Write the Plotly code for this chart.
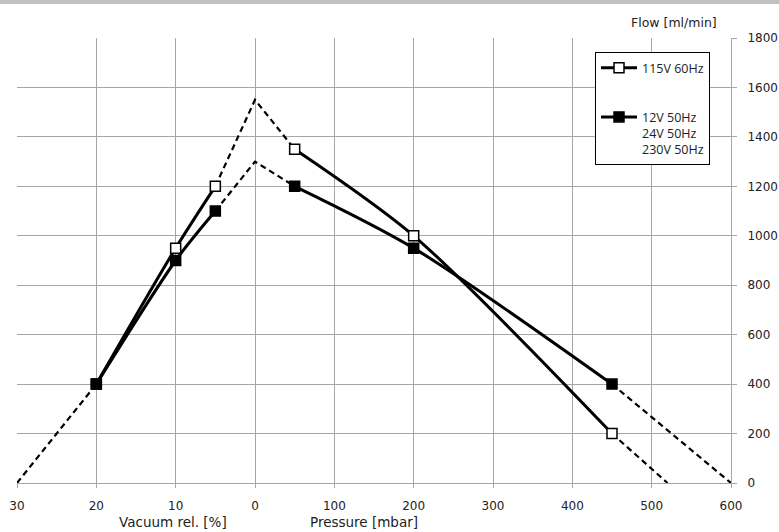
import plotly.graph_objects as go

# ---- data ----
# x positions: vacuum side in % (left of 0), pressure side in mbar (right of 0)
tick_labels = ["30", "20", "10", "0", "100", "200", "300", "400", "500", "600"]
tick_pos = [-3, -2, -1, 0, 1, 2, 3, 4, 5, 6]

# 115V 60Hz (open squares)
a_vac_pct = [20, 10, 5]
a_vac_flow = [400, 950, 1200]
a_prs_mbar = [50, 200, 450]
a_prs_flow = [1350, 1000, 200]
a_ext_left_x = [5, 0]          # vacuum % -> dashed to peak
a_ext_left_y = [1200, 1550]
a_ext_mid_mbar = [0, 50]
a_ext_mid_y = [1550, 1350]
a_ext_right_mbar = [450, 520]
a_ext_right_y = [200, 0]

# 12V/24V/230V 50Hz (filled squares)
b_vac_pct = [20, 10, 5]
b_vac_flow = [400, 900, 1100]
b_prs_mbar = [50, 200, 450]
b_prs_flow = [1200, 950, 400]
b_ext_left_x = [5, 0]
b_ext_left_y = [1100, 1300]
b_ext_mid_mbar = [0, 50]
b_ext_mid_y = [1300, 1200]
b_ext_right_mbar = [450, 600]
b_ext_right_y = [400, 0]

# common dashed start
c_vac_pct = [30, 20]
c_flow = [0, 400]


def vx(v):
    return [-p / 10.0 for p in v]


def px(p):
    return [m / 100.0 for m in p]


DASH = "6px,4px"
fig = go.Figure()

# dashed extensions
def dashed(x, y):
    fig.add_trace(go.Scatter(x=x, y=y, mode="lines", showlegend=False,
                             hoverinfo="skip",
                             line=dict(color="black", width=2.2, dash=DASH)))

dashed(vx(c_vac_pct), c_flow)
dashed(vx(a_ext_left_x) + px(a_ext_mid_mbar)[1:], a_ext_left_y + a_ext_mid_y[1:])
dashed(px(a_ext_right_mbar), a_ext_right_y)
dashed(vx(b_ext_left_x) + px(b_ext_mid_mbar)[1:], b_ext_left_y + b_ext_mid_y[1:])
dashed(px(b_ext_right_mbar), b_ext_right_y)

# solid series (vacuum part + gap + pressure part)
fig.add_trace(go.Scatter(
    x=vx(a_vac_pct) + [None] + px(a_prs_mbar),
    y=a_vac_flow + [None] + a_prs_flow,
    mode="lines+markers", connectgaps=False,
    name="115V 60Hz", legendgroup="a",
    line=dict(color="black", width=3, shape="spline", smoothing=0.8),
    marker=dict(symbol="square", size=10, color="white",
                line=dict(color="black", width=1.5)),
))
fig.add_trace(go.Scatter(
    x=vx(b_vac_pct) + [None] + px(b_prs_mbar),
    y=b_vac_flow + [None] + b_prs_flow,
    mode="lines+markers", connectgaps=False,
    name="12V 50Hz<br>24V 50Hz<br>230V 50Hz", legendgroup="b",
    line=dict(color="black", width=3, shape="spline", smoothing=0.8),
    marker=dict(symbol="square", size=10, color="black",
                line=dict(color="black", width=1.5)),
))

FONT = "DejaVu Sans"
TXT = "#222222"
L, R, T, B = 17, 48, 38, 49
W, H = 779, 532
pw = W - L - R
ph = H - T - B

fig.update_layout(
    width=W, height=H,
    margin=dict(l=L, r=R, t=T, b=B, autoexpand=False),
    paper_bgcolor="white", plot_bgcolor="white",
    font=dict(family=FONT, size=12, color=TXT),
    xaxis=dict(range=[-3, 6], tickmode="array", tickvals=tick_pos,
               ticktext=tick_labels, showgrid=True, gridcolor="#a6a6a6",
               gridwidth=1, zeroline=False, showline=True, linecolor="#a6a6a6",
               ticks="outside", ticklen=4, tickcolor="#a6a6a6",
               ticklabelstandoff=8, tickfont=dict(size=12), automargin=False),
    yaxis=dict(range=[0, 1800], dtick=200, side="right", showgrid=True,
               gridcolor="#a6a6a6", gridwidth=1, zeroline=False,
               showline=True, linecolor="#a6a6a6", ticks="outside",
               ticklen=5, tickcolor="#a6a6a6", ticklabelstandoff=8,
               tickfont=dict(size=12), automargin=False),
    showlegend=True,
    legend=dict(x=(595 - L) / pw, y=(H - B - 52) / ph, xanchor="left",
                yanchor="top", bgcolor="white", bordercolor="black",
                borderwidth=1, valign="top",
                font=dict(family="Open Sans", size=12.5, color=TXT),
                itemwidth=36, tracegroupgap=30),
    shapes=[dict(type="rect", xref="paper", yref="paper",
                 x0=-L / pw, x1=(W - L) / pw,
                 y0=(H - B - 4) / ph, y1=(H - B) / ph,
                 fillcolor="#c0c0c0", line=dict(width=0), layer="above")],
    annotations=[
        dict(text="Flow [ml/min]", xref="paper", yref="paper",
             x=(674 - L) / pw, y=(H - B - 22) / ph, showarrow=False,
             xanchor="center", yanchor="middle", font=dict(size=12.5)),
        dict(text="Vacuum rel. [%]", xref="x", yref="paper", x=-1.03,
             y=-(522 - (H - B)) / ph, showarrow=False, xanchor="center",
             yanchor="middle", font=dict(size=13.5)),
        dict(text="Pressure [mbar]", xref="x", yref="paper", x=1.37,
             y=-(522 - (H - B)) / ph, showarrow=False, xanchor="center",
             yanchor="middle", font=dict(size=13.5)),
    ],
)

fig.write_html("out.html", config={"displayModeBar": False},
               post_script="document.body.style.margin='0';"
                           "document.body.style.overflow='hidden';")
